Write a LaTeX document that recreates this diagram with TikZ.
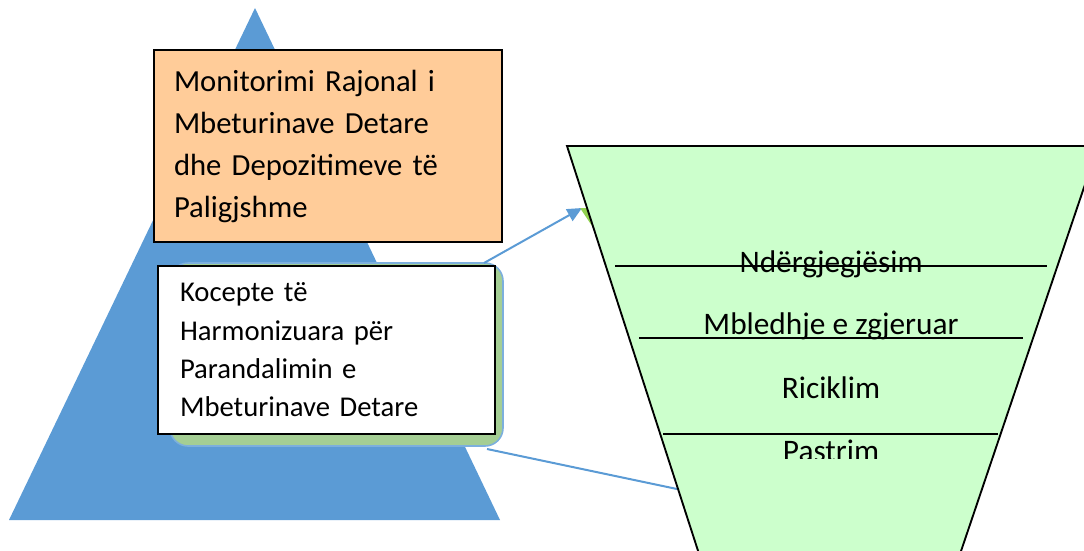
\documentclass[tikz,border=0pt]{standalone}
\usepackage{fontspec}
\setmainfont{Carlito}
\usetikzlibrary{arrows.meta}
\definecolor{pyrblue}{HTML}{5B9BD5}
\definecolor{boxorange}{HTML}{FFCC99}
\definecolor{funnelgreen}{HTML}{CCFFCC}
\definecolor{bggreen}{HTML}{A4CE94}
\definecolor{slivergreen}{HTML}{92D050}
\begin{document}
\begin{tikzpicture}
	[x=0.75pt,y=-0.75pt,
	 textbox/.style={draw=black,line width=1.6pt,anchor=north west,outer sep=0pt,
		execute at begin node={\raggedright}},
	 levellabel/.style={anchor=base,font=\fontsize{23.5}{28}\selectfont},
	 link/.style={pyrblue,line width=1.5pt}]
\clip (0,0) rectangle (1084,550);
% pyramid
\fill[pyrblue] (9,520) -- (255,8) -- (500,520) -- cycle;
\node[fill=bggreen,draw=pyrblue!80,line width=1.2pt,rounded corners=13.5pt,
	minimum width=249.75pt,minimum height=137.25pt,anchor=north west,outer sep=0pt] (conceptsbg) at (170,263) {};
\node[textbox,fill=white,inner xsep=16.5pt,text width=219.75pt,minimum height=126pt,
	font=\fontsize{21.5}{28.7}\selectfont] (concepts) at (158,266)
	{Kocepte të\\Harmonizuara për\\Parandalimin e\\Mbeturinave Detare};
\node[textbox,fill=boxorange,inner xsep=15pt,text width=231pt,minimum height=144pt,
	font=\fontsize{23}{31.5}\selectfont] (monitoring) at (154,50)
	{Monitorimi Rajonal i\\Mbeturinave Detare\\dhe Depozitimeve të\\Paligjshme};
% connectors
\coordinate (tipin) at (582,208);
\coordinate (funnelin) at (677,489);
\draw[link,-{Triangle[length=11pt,width=10pt]}] ([xshift=-14.25pt]conceptsbg.north east) -- (tipin);
\draw[link] ([xshift=-12pt,yshift=-2.25pt]conceptsbg.south east) -- (funnelin);
\fill[slivergreen] (580,208) -- (590,208) -- (596,232) -- cycle;
% funnel
\filldraw[fill=funnelgreen,line width=1.4pt] (567,146) -- (1098,146) -- (958,560) -- (701,560) -- cycle;
\foreach \y/\l/\r in {266/615/1047,338/639/1023,434/663/998}
	\draw[line width=1.4pt] (\l,\y) -- (\r,\y);
\node[levellabel] (lvl1) at (831,272) {Ndërgjegjësim};
\node[levellabel] (lvl2) at (831,334) {Mbledhje e zgjeruar};
\node[levellabel] (lvl3) at (831,398) {Riciklim};
\begin{scope}
\clip (600,400) rectangle (1000,458);
\node[levellabel] (lvl4) at (831,461) {Pastrim};
\end{scope}
\end{tikzpicture}
\end{document}
